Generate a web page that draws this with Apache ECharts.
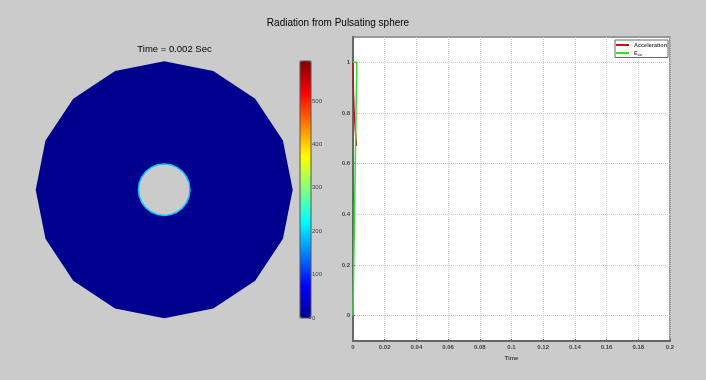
<!DOCTYPE html>
<html>
<head>
<meta charset="utf-8">
<style>
    html, body { margin: 0; padding: 0; background: #cbcbcb; }
    #chart { width: 706px; height: 380px; }
</style>
<script src="https://cdn.jsdelivr.net/npm/echarts@6/dist/echarts.min.js"></script>
</head>
<body>
<div id="chart"></div>
<script>
// left panel, mesh outline in model units
const outerX = [5, 4.62, 3.54, 1.91, 0, -1.91, -3.54, -4.62, -5, -4.62, -3.54, -1.91, 0, 1.91, 3.54, 4.62]
const outerY = [0, 1.91, 3.54, 4.62, 5, 4.62, 3.54, 1.91, 0, -1.91, -3.54, -4.62, -5, -4.62, -3.54, -1.91]
const holeX = [1, 0.97, 0.87, 0.71, 0.5, 0.26, 0, -0.26, -0.5, -0.71, -0.87, -0.97, -1, -0.97, -0.87, -0.71, -0.5, -0.26, 0, 0.26, 0.5, 0.71, 0.87, 0.97]
const holeY = [0, 0.26, 0.5, 0.71, 0.87, 0.97, 1, 0.97, 0.87, 0.71, 0.5, 0.26, 0, -0.26, -0.5, -0.71, -0.87, -0.97, -1, -0.97, -0.87, -0.71, -0.5, -0.26]
const meshValue = 0
const holeEdgeValue = 190
const colorbarTicks = [0, 100, 200, 300, 400, 500]

// right panel
const accelTime = [0, 0.0003, 0.0006, 0.0008, 0.0011, 0.0014, 0.0018, 0.0022]
const accelValue = [1, 0.875, 0.83, 0.795, 0.77, 0.735, 0.7, 0.67]
const energyTime = [0, 0.0024, 0.0024, 0]
const energyValue = [0, 1, 1, 1]
const yTicks = [0, 0.2, 0.4, 0.6, 0.8, 1]

const jet = ['#00008f', '#0000ff', '#0080ff', '#00ffff', '#80ff80', '#ffff00', '#ff8000', '#ff0000', '#800000']
const tinyLabel = { fontFamily: 'Liberation Sans', fontSize: 6, fontWeight: 'bold', color: '#444' }
const gridLine = { type: 'dotted', color: '#ccc' }

const zipRows = (xs, ys) => xs.map((x, i) => [x, ys[i]])

const chart = echarts.init(document.getElementById('chart'))

chart.setOption({
    backgroundColor: '#cbcbcb',
    animation: false,
    title: [{
        text: 'Radiation from Pulsating sphere',
        left: 338,
        top: 18,
        padding: 0,
        textAlign: 'center',
        textStyle: { fontFamily: 'Liberation Sans', fontSize: 10, fontWeight: 'normal', color: '#000' }
    }, {
        text: 'Time = 0.002 Sec',
        left: 174.5,
        top: 44,
        padding: 0,
        textAlign: 'center',
        textStyle: { fontFamily: 'Liberation Sans', fontSize: 9.5, fontWeight: 'normal', color: '#000' }
    }],
    legend: {
        data: ['Acceleration', 'Ese'],
        left: 615,
        top: 40,
        orient: 'vertical',
        align: 'left',
        backgroundColor: '#fff',
        borderColor: '#666',
        borderWidth: 1,
        padding: [2, 1, 1, 1],
        itemGap: 2,
        itemWidth: 13,
        itemHeight: 2,
        icon: 'rect',
        formatter: name => name === 'Ese' ? '{main|E}{sub|sc}' : name,
        textStyle: {
            ...tinyLabel,
            fontSize: 5.5,
            rich: {
                main: { ...tinyLabel, fontSize: 5.5 },
                sub: { ...tinyLabel, fontSize: 4, verticalAlign: 'bottom', padding: [3, 0, 0, 0] }
            }
        }
    },
    grid: [
        { left: 35.7, top: 61.2, width: 257, height: 257, show: false },
        { left: 300, top: 61, width: 11, height: 257, show: true, backgroundColor: 'transparent', borderColor: '#555', borderWidth: 1, z: 6 },
        { left: 353, right: 36, top: 37, bottom: 39, show: true, backgroundColor: '#fff', borderColor: '#999', borderWidth: 2 }
    ],
    xAxis: [
        { gridIndex: 0, type: 'value', min: -5, max: 5, show: false },
        { gridIndex: 1, type: 'value', min: 0, max: 1, show: false },
        {
            gridIndex: 2,
            type: 'value',
            min: 0,
            max: 0.2,
            interval: 0.02,
            name: 'Time',
            nameLocation: 'middle',
            nameGap: 9,
            nameTextStyle: tinyLabel,
            axisLine: { onZero: false, lineStyle: { color: '#666', width: 2 } },
            axisTick: { inside: true, length: 2, lineStyle: { color: '#666' } },
            axisLabel: { ...tinyLabel, margin: 3 },
            splitLine: { show: true, lineStyle: gridLine }
        }
    ],
    yAxis: [
        { gridIndex: 0, type: 'value', min: -5, max: 5, show: false },
        {
            gridIndex: 1,
            type: 'value',
            min: 0,
            max: 592,
            position: 'right',
            axisLine: { show: false, onZero: false },
            axisTick: { show: true, inside: true, length: 2, customValues: colorbarTicks, lineStyle: { color: '#555' } },
            axisLabel: { ...tinyLabel, margin: 1, customValues: colorbarTicks, fontWeight: 'normal' },
            splitLine: { show: false }
        },
        {
            gridIndex: 2,
            type: 'value',
            min: -0.1,
            max: 1.1,
            axisLine: { show: true, onZero: false, lineStyle: { color: '#666', width: 2 } },
            axisTick: { show: true, inside: true, length: 2, customValues: yTicks, lineStyle: { color: '#666' } },
            axisLabel: { ...tinyLabel, margin: 3, customValues: yTicks },
            splitLine: { show: true, lineStyle: gridLine }
        }
    ],
    visualMap: {
        type: 'continuous',
        seriesIndex: [0, 1],
        dimension: 2,
        min: 0,
        max: 592,
        left: 300,
        top: 61,
        itemWidth: 11,
        itemHeight: 257,
        padding: 0,
        calculable: false,
        text: ['', ''],
        inRange: { color: jet }
    },
    series: [{
        // mesh body, outline then hole as one keyhole polygon
        type: 'custom',
        xAxisIndex: 0,
        yAxisIndex: 0,
        silent: true,
        data: [[0, 0, meshValue]],
        encode: { x: 0, y: 1 },
        renderItem: (params, api) => {
            const outer = zipRows(outerX, outerY).map(p => api.coord(p))
            const hole = zipRows(holeX, holeY).map(p => api.coord(p)).reverse()
            const points = [...outer, outer[0], hole[hole.length - 1], ...hole]
            return { type: 'polygon', shape: { points }, style: { fill: api.visual('color') } }
        }
    }, {
        type: 'custom',
        xAxisIndex: 0,
        yAxisIndex: 0,
        silent: true,
        data: [[0, 0, holeEdgeValue]],
        encode: { x: 0, y: 1 },
        renderItem: (params, api) => ({
            type: 'polygon',
            shape: { points: zipRows(holeX, holeY).map(p => api.coord(p)) },
            style: { fill: 'none', stroke: api.visual('color'), lineWidth: 1.5 }
        })
    }, {
        name: 'Acceleration',
        type: 'line',
        xAxisIndex: 2,
        yAxisIndex: 2,
        showSymbol: false,
        itemStyle: { color: '#c01020' },
        lineStyle: { color: '#c01020', width: 1.5 },
        data: zipRows(accelTime, accelValue)
    }, {
        name: 'Ese',
        type: 'line',
        xAxisIndex: 2,
        yAxisIndex: 2,
        showSymbol: false,
        itemStyle: { color: '#30e030' },
        lineStyle: { color: '#30e030', width: 1.5 },
        data: zipRows(energyTime, energyValue)
    }]
})
</script>
</body>
</html>
